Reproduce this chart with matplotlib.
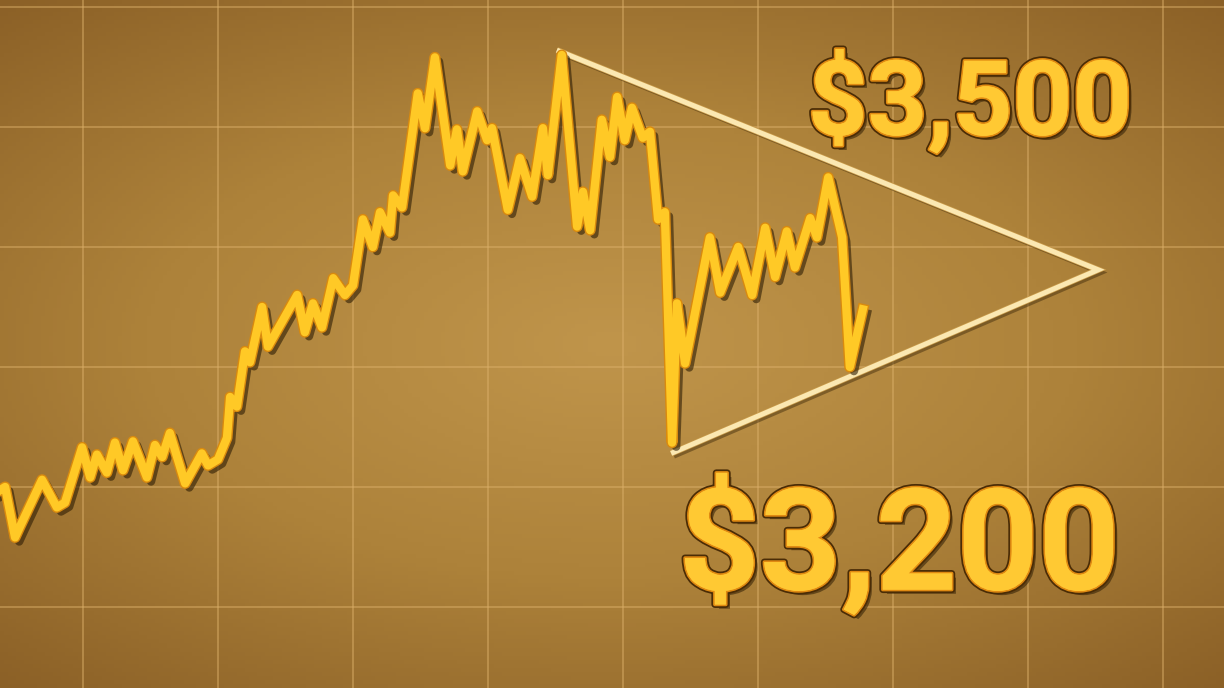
import matplotlib
matplotlib.use("Agg")
import matplotlib.pyplot as plt
import matplotlib.patheffects as pe
import numpy as np
from matplotlib.colors import LinearSegmentedColormap

# price path (day index, price in USD)
days = [-19, -17.3, -15.1, -14.0, -9.1, -5.8, -4.0, -0.2, 1.6, 3.1, 5.3, 7.1, 8.9,
        11.1, 14.2, 16.0, 17.6, 19.3, 22.7, 26.4, 27.8, 30.0, 32.0, 32.7, 34.2,
        36.0, 37.1, 39.8, 41.1, 47.6, 49.3, 51.1, 53.1, 55.6, 58.2, 60.0, 62.2,
        64.4, 66.0, 68.2, 68.9, 70.9, 74.4, 76.0, 78.2, 81.6, 83.1, 84.4, 87.6,
        89.8, 90.9, 94.4, 97.1, 99.8, 102.2, 103.3, 106.4, 109.8, 111.1, 112.7,
        115.3, 117.1, 118.7, 120.4, 122.0, 124.4, 126.0, 127.8, 129.3, 130.9,
        132.0, 133.8, 139.3, 141.6, 145.6, 148.7, 151.6, 153.8, 156.4, 158.2,
        161.6, 163.1, 165.6, 168.7, 170.4, 173.3]
prices = [3196, 3200, 3158, 3167, 3206, 3183, 3187, 3233, 3208, 3227, 3212, 3237,
          3214, 3238, 3208, 3235, 3225, 3245, 3203, 3228, 3218, 3223, 3241, 3275,
          3267, 3313, 3304, 3350, 3317, 3360, 3329, 3353, 3333, 3374, 3360, 3368,
          3423, 3400, 3429, 3412, 3443, 3433, 3528, 3499, 3558, 3468, 3498, 3463,
          3513, 3489, 3499, 3431, 3474, 3442, 3499, 3460, 3560, 3417, 3446, 3414,
          3506, 3475, 3525, 3489, 3516, 3491, 3496, 3423, 3429, 3237, 3353, 3303,
          3408, 3362, 3400, 3360, 3416, 3375, 3413, 3383, 3424, 3408, 3458, 3408,
          3300, 3348]

# symmetrical triangle: upper trend start -> apex -> lower trend start
tri_days = [105.3, 225.6, 130.7]
tri_prices = [3564, 3381, 3228]

labels = ["$3,500", "$3,200"]

fig = plt.figure(figsize=(12.24, 6.88), dpi=100)
ax = fig.add_axes([0, 0, 1, 1])
x0, x1 = -18.44, 253.56
y0, y1 = 3032.5, 3605.8
ax.set_xlim(x0, x1)
ax.set_ylim(y0, y1)

# warm gold background with a soft vignette
gx, gy = np.meshgrid(np.linspace(-1, 1, 300), np.linspace(-1, 1, 170))
r = np.sqrt((gx * 0.85) ** 2 + (gy * 0.95) ** 2)
bg = LinearSegmentedColormap.from_list("bg", ["#c0954b", "#ad823a", "#8a5f26"])
ax.imshow(r, cmap=bg, extent=[x0, x1, y0, y1], aspect="auto", zorder=0,
          vmin=0, vmax=1.3)

ax.set_xticks(np.arange(0, 250, 30))
ax.set_yticks(np.arange(3100, 3700, 100))
ax.grid(True, color="#dcb06a", alpha=0.6, linewidth=1.1)
ax.tick_params(length=0, labelbottom=False, labelleft=False)
for s in ax.spines.values():
    s.set_visible(False)

# triangle outline (open on the left side)
ax.plot(tri_days, tri_prices, color="#fbe8b2", lw=3.6, solid_joinstyle="miter",
        solid_capstyle="butt", zorder=2,
        path_effects=[pe.SimpleLineShadow(offset=(2, -2), shadow_color="#3a2608", alpha=0.45),
                      pe.Stroke(linewidth=4.6, foreground="#c99a48"),
                      pe.Normal()])

# price line
ax.plot(days, prices, color="#ffc926", lw=6, solid_joinstyle="round", zorder=3,
        path_effects=[pe.SimpleLineShadow(offset=(3, -3), shadow_color="#2e1d04", alpha=0.6),
                      pe.Stroke(linewidth=8, foreground="#d98a0e", joinstyle="round"),
                      pe.Normal()])

txt_fx = [pe.SimplePatchShadow(offset=(3, -3), shadow_rgbFace="#2e1d04", alpha=0.55),
          pe.withStroke(linewidth=5, foreground="#4a2c06"),
          pe.withStroke(linewidth=2.5, foreground="#e08a12"),
          pe.Normal()]
ax.text(0.7925, 0.804, labels[0], transform=ax.transAxes, ha="center", va="baseline",
        fontsize=75, fontweight="bold", family="Roboto", color="#ffc933",
        path_effects=txt_fx, zorder=5)
ax.text(0.7345, 0.143, labels[1], transform=ax.transAxes, ha="center", va="baseline",
        fontsize=102, fontweight="bold", family="Roboto", color="#ffc933",
        path_effects=txt_fx, zorder=5)

fig.savefig("out.png", dpi=100)
